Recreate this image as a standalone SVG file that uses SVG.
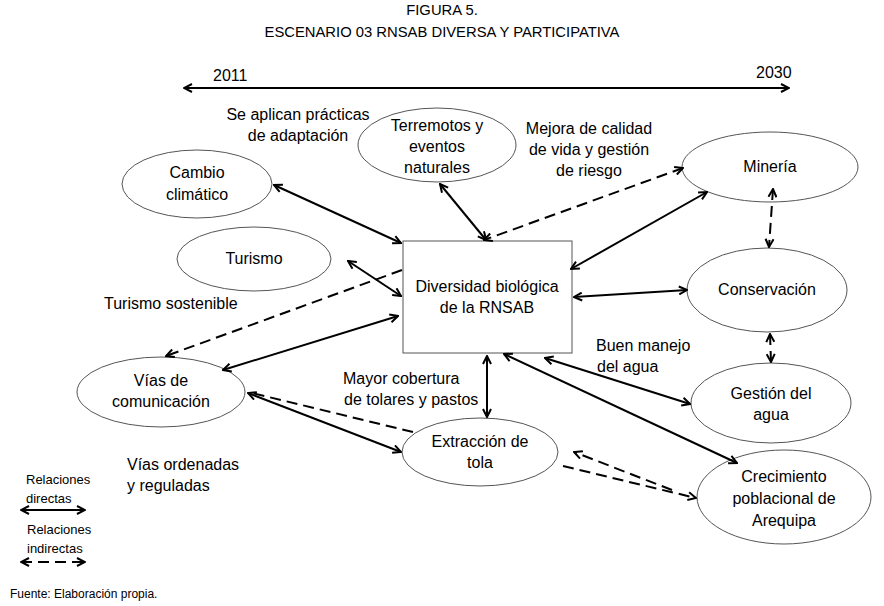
<svg xmlns="http://www.w3.org/2000/svg" width="884" height="606" viewBox="0 0 884 606">
<style>
text{font-family:"Liberation Sans",Arial,sans-serif;font-size:16px;fill:#000}
.t{font-size:14.8px}
.lg{font-size:13px}
.src{font-size:12px}
.c{text-anchor:middle}
ellipse,rect.n{fill:#fff;stroke:#555;stroke-width:1}
.s{stroke:#000;stroke-width:2;fill:none}
.d{stroke:#000;stroke-width:2;fill:none;stroke-dasharray:11,6}
</style>
<defs>
<marker id="a" viewBox="0 0 10 10" refX="9" refY="5" markerWidth="10" markerHeight="10" markerUnits="userSpaceOnUse" orient="auto-start-reverse">
<path d="M1,1 L9,5 L1,9" fill="none" stroke="#000" stroke-width="2"/>
</marker>
</defs>
<rect width="884" height="606" fill="#fff"/>
<g id="title">
<text class="t c" x="442" y="15">FIGURA 5.</text>
<text class="t c" x="442" y="37">ESCENARIO 03 RNSAB DIVERSA Y PARTICIPATIVA</text>
</g>
<g id="timeline">
<line class="s" x1="184" y1="88" x2="789" y2="88" marker-start="url(#a)" marker-end="url(#a)"/>
<text x="213" y="81">2011</text>
<text x="756" y="78">2030</text>
</g>
<g id="n-center">
<rect class="n" x="403" y="241" width="169" height="112"/>
<text class="c" x="487" y="292">Diversidad biológica</text>
<text class="c" x="487" y="313">de la RNSAB</text>
</g>
<g id="n-cambio">
<ellipse cx="197" cy="184" rx="75" ry="34"/>
<text class="c" x="197" y="178">Cambio</text>
<text class="c" x="197" y="200">climático</text>
</g>
<g id="n-turismo">
<ellipse cx="254" cy="259" rx="77" ry="32"/>
<text class="c" x="254" y="264">Turismo</text>
</g>
<g id="n-terremotos">
<ellipse cx="437" cy="145" rx="79" ry="37"/>
<text class="c" x="437" y="131">Terremotos y</text>
<text class="c" x="437" y="152">eventos</text>
<text class="c" x="437" y="173">naturales</text>
</g>
<g id="n-mineria">
<ellipse cx="770" cy="167" rx="88" ry="35"/>
<text class="c" x="770" y="172">Minería</text>
</g>
<g id="n-conservacion">
<ellipse cx="767" cy="290" rx="80" ry="42"/>
<text class="c" x="767" y="295">Conservación</text>
</g>
<g id="n-gestion">
<ellipse cx="771" cy="403" rx="80" ry="40"/>
<text class="c" x="771" y="399">Gestión del</text>
<text class="c" x="771" y="420">agua</text>
</g>
<g id="n-crecimiento">
<ellipse cx="784" cy="497" rx="87" ry="47"/>
<text class="c" x="784" y="482">Crecimiento</text>
<text class="c" x="784" y="504">poblacional de</text>
<text class="c" x="784" y="526">Arequipa</text>
</g>
<g id="n-vias">
<ellipse cx="161" cy="392" rx="84" ry="35"/>
<text class="c" x="161" y="386">Vías de</text>
<text class="c" x="161" y="407">comunicación</text>
</g>
<g id="n-extraccion">
<ellipse cx="480" cy="452" rx="78" ry="34"/>
<text class="c" x="480" y="447">Extracción de</text>
<text class="c" x="480" y="468">tola</text>
</g>
<g id="connectors">
<line class="s" x1="274" y1="185" x2="401" y2="243" marker-start="url(#a)" marker-end="url(#a)"/>
<line class="s" x1="440" y1="184" x2="486" y2="240" marker-start="url(#a)" marker-end="url(#a)"/>
<line class="s" x1="348" y1="261" x2="401" y2="296" marker-start="url(#a)" marker-end="url(#a)"/>
<line class="s" x1="223" y1="370" x2="398" y2="316" marker-start="url(#a)" marker-end="url(#a)"/>
<line class="s" x1="707" y1="192" x2="571" y2="269" marker-start="url(#a)" marker-end="url(#a)"/>
<line class="s" x1="687" y1="290" x2="574" y2="297" marker-start="url(#a)" marker-end="url(#a)"/>
<line class="s" x1="690" y1="404" x2="545" y2="358" marker-start="url(#a)" marker-end="url(#a)"/>
<line class="s" x1="737" y1="463" x2="504" y2="354" marker-start="url(#a)" marker-end="url(#a)"/>
<line class="s" x1="487" y1="417" x2="487" y2="356" marker-start="url(#a)" marker-end="url(#a)"/>
<line class="s" x1="248" y1="393" x2="401" y2="452" marker-start="url(#a)" marker-end="url(#a)"/>
<line class="d" x1="773" y1="189" x2="769" y2="247" marker-start="url(#a)" marker-end="url(#a)"/>
<line class="d" x1="770" y1="334" x2="771" y2="362" marker-start="url(#a)" marker-end="url(#a)"/>
<line class="d" x1="683" y1="168" x2="484" y2="240" marker-start="url(#a)" marker-end="url(#a)"/>
<line class="d" x1="402" y1="270" x2="166" y2="356" marker-end="url(#a)"/>
<line class="d" x1="413" y1="432" x2="252" y2="393"/>
<line class="d" x1="672" y1="490" x2="574" y2="452" marker-end="url(#a)"/>
<line class="d" x1="563" y1="466" x2="696" y2="498" marker-end="url(#a)"/>
</g>
<g id="labels">
<text class="c" x="298" y="120">Se aplican prácticas</text>
<text class="c" x="298" y="141">de adaptación</text>
<text class="c" x="589" y="134">Mejora de calidad</text>
<text class="c" x="589" y="155">de vida y gestión</text>
<text class="c" x="589" y="176">de riesgo</text>
<text x="104" y="309">Turismo sostenible</text>
<text x="596" y="351">Buen manejo</text>
<text x="597" y="372">del agua</text>
<text x="343" y="384">Mayor cobertura</text>
<text x="344" y="405">de tolares y pastos</text>
<text x="127" y="470">Vías ordenadas</text>
<text x="127" y="491">y reguladas</text>
</g>
<g id="legend">
<text class="lg" x="26" y="484">Relaciones</text>
<text class="lg" x="26" y="503">directas</text>
<line class="s" x1="21" y1="510" x2="85" y2="510" marker-start="url(#a)" marker-end="url(#a)"/>
<text class="lg" x="27" y="534">Relaciones</text>
<text class="lg" x="27" y="553">indirectas</text>
<line class="d" x1="21" y1="562" x2="85" y2="562" stroke-dasharray="12,8" marker-start="url(#a)" marker-end="url(#a)"/>
</g>
<text class="src" x="10" y="598">Fuente: Elaboración propia.</text>
</svg>
